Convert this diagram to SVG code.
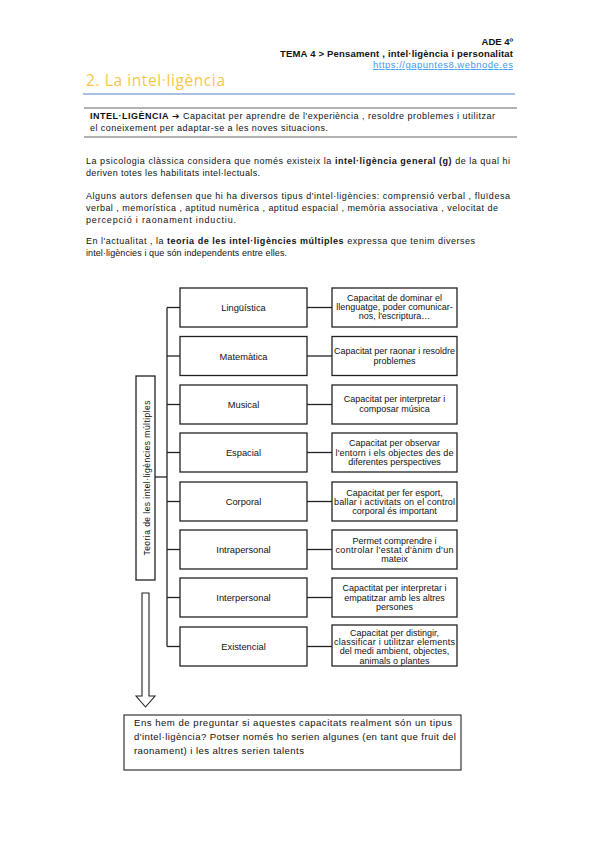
<svg xmlns="http://www.w3.org/2000/svg" width="599" height="848" viewBox="0 0 599 848">
<style>
text{font-family:"Liberation Sans",Arial,sans-serif;fill:#111;}
.hd{font-size:9.5px;font-weight:bold;text-anchor:end;}
.p{font-size:9px;}
.q{font-size:9.6px;}
.b{font-weight:bold;}
.box{fill:#fff;stroke:#222;stroke-width:1.3;}
.lbl{font-size:9.3px;text-anchor:middle;}
.dsc{font-size:9px;text-anchor:middle;}
.con{fill:none;stroke:#222;stroke-width:1.3;}
</style>
<rect width="599" height="848" fill="#fff"/>
<g id="header">
<text class="hd" x="513" y="45">ADE 4º</text>
<text class="hd" x="513" y="57" textLength="233">TEMA 4 &gt; Pensament , intel·ligència i personalitat</text>
<text x="513" y="68" style="font-size:9.5px;text-anchor:end;fill:#3d9cf0;text-decoration:underline" textLength="140">https://gapuntes8.webnode.es</text>
</g>
<g id="title">
<text x="86" y="86" style="font-family:'Open Sans','Liberation Sans',sans-serif;font-size:15.5px;fill:#f7c648" textLength="139">2. La intel·ligència</text>
<line x1="83" y1="94" x2="515" y2="94" stroke="#8eaadb" stroke-width="1.6"/>
</g>
<g id="definition">
<line x1="84" y1="108" x2="517" y2="108" stroke="#666" stroke-width="1"/>
<line x1="84" y1="137" x2="517" y2="137" stroke="#666" stroke-width="1"/>
<text class="p" x="90" y="119" textLength="405"><tspan class="b">INTEL·LIGÈNCIA</tspan> <tspan class="b" style="font-family:'DejaVu Sans',sans-serif">➔</tspan> Capacitat per aprendre de l'experiència , resoldre problemes i utilitzar</text>
<text class="p" x="90" y="131" textLength="238">el coneixement per adaptar-se a les noves situacions.</text>
</g>
<g id="paragraphs">
<text class="p" x="86" y="164" textLength="424">La psicologia clàssica considera que només existeix la <tspan class="b">intel·ligència general (g)</tspan> de la qual hi</text>
<text class="p" x="86" y="176" textLength="174">deriven totes les habilitats intel·lectuals.</text>
<text class="p" x="86" y="199" textLength="424">Alguns autors defensen que hi ha diversos tipus d'intel·ligències: comprensió verbal , fluïdesa</text>
<text class="p" x="86" y="211" textLength="412">verbal , memorística , aptitud numèrica , aptitud espacial , memòria associativa , velocitat de</text>
<text class="p" x="86" y="223" textLength="150">percepció i raonament inductiu.</text>
<text class="p" x="86" y="244" textLength="389">En l'actualitat , la <tspan class="b">teoria de les intel·ligències múltiples</tspan> expressa que tenim diverses</text>
<text class="p" x="86" y="256" textLength="201">intel·ligències i que són independents entre elles.</text>
</g>
<g id="connectors">
<line class="con" x1="155" y1="477" x2="167" y2="477"/>
<line class="con" x1="167" y1="307.5" x2="167" y2="646.5"/>
<line class="con" x1="167" y1="307.5" x2="180" y2="307.5"/>
<line class="con" x1="167" y1="356" x2="180" y2="356"/>
<line class="con" x1="167" y1="404.5" x2="180" y2="404.5"/>
<line class="con" x1="167" y1="452.5" x2="180" y2="452.5"/>
<line class="con" x1="167" y1="501.5" x2="180" y2="501.5"/>
<line class="con" x1="167" y1="549.5" x2="180" y2="549.5"/>
<line class="con" x1="167" y1="597.5" x2="180" y2="597.5"/>
<line class="con" x1="167" y1="646.5" x2="180" y2="646.5"/>
<line class="con" x1="307" y1="307.5" x2="332" y2="307.5"/>
<line class="con" x1="307" y1="356" x2="332" y2="356"/>
<line class="con" x1="307" y1="404.5" x2="332" y2="404.5"/>
<line class="con" x1="307" y1="452.5" x2="332" y2="452.5"/>
<line class="con" x1="307" y1="501.5" x2="332" y2="501.5"/>
<line class="con" x1="307" y1="549.5" x2="332" y2="549.5"/>
<line class="con" x1="307" y1="597.5" x2="332" y2="597.5"/>
<line class="con" x1="307" y1="646.5" x2="332" y2="646.5"/>
<path d="M142,593 H149 V696 H155 L145.5,707 L136,696 H142 Z" fill="#fff" stroke="#222" stroke-width="1.1"/>
</g>
<g id="root">
<rect class="box" x="136" y="376" width="19" height="204"/>
<text transform="translate(149.5,478) rotate(-90)" style="font-size:8.5px;text-anchor:middle" textLength="155">Teoria de les intel·ligències múltiples</text>
</g>
<g id="linguistica">
<rect class="box" x="180" y="288" width="127" height="39"/>
<text class="lbl" x="243.5" y="311">Lingüística</text>
</g>
<g id="matematica">
<rect class="box" x="180" y="336.5" width="127" height="39"/>
<text class="lbl" x="243.5" y="359.5">Matemàtica</text>
</g>
<g id="musical">
<rect class="box" x="180" y="385" width="127" height="39"/>
<text class="lbl" x="243.5" y="408">Musical</text>
</g>
<g id="espacial">
<rect class="box" x="180" y="433" width="127" height="39"/>
<text class="lbl" x="243.5" y="456">Espacial</text>
</g>
<g id="corporal">
<rect class="box" x="180" y="482" width="127" height="39"/>
<text class="lbl" x="243.5" y="505">Corporal</text>
</g>
<g id="intrapersonal">
<rect class="box" x="180" y="530" width="127" height="39"/>
<text class="lbl" x="243.5" y="553">Intrapersonal</text>
</g>
<g id="interpersonal">
<rect class="box" x="180" y="578" width="127" height="39"/>
<text class="lbl" x="243.5" y="601">Interpersonal</text>
</g>
<g id="existencial">
<rect class="box" x="180" y="627" width="127" height="39"/>
<text class="lbl" x="243.5" y="650">Existencial</text>
</g>
<g id="d-linguistica">
<rect class="box" x="332" y="288" width="125" height="39"/>
<text class="dsc" x="394.5" y="300.5">Capacitat de dominar el</text>
<text class="dsc" x="394.5" y="309.5">llenguatge, poder comunicar-</text>
<text class="dsc" x="394.5" y="318.5">nos, l'escriptura…</text>
</g>
<g id="d-matematica">
<rect class="box" x="332" y="336.5" width="125" height="39"/>
<text class="dsc" x="394.5" y="354" textLength="121">Capacitat per raonar i resoldre</text>
<text class="dsc" x="394.5" y="363.5">problemes</text>
</g>
<g id="d-musical">
<rect class="box" x="332" y="385" width="125" height="39"/>
<text class="dsc" x="394.5" y="401.5">Capacitat per interpretar i</text>
<text class="dsc" x="394.5" y="411.5">composar música</text>
</g>
<g id="d-espacial">
<rect class="box" x="332" y="433" width="125" height="39"/>
<text class="dsc" x="394.5" y="446">Capacitat per observar</text>
<text class="dsc" x="394.5" y="455.5" textLength="118">l'entorn i els objectes des de</text>
<text class="dsc" x="394.5" y="465">diferentes perspectives</text>
</g>
<g id="d-corporal">
<rect class="box" x="332" y="482" width="125" height="39"/>
<text class="dsc" x="394.5" y="495.5">Capacitat per fer esport,</text>
<text class="dsc" x="394.5" y="504.5" textLength="121">ballar i activitats on el control</text>
<text class="dsc" x="394.5" y="513.5">corporal és important</text>
</g>
<g id="d-intrapersonal">
<rect class="box" x="332" y="530" width="125" height="39"/>
<text class="dsc" x="394.5" y="543.5">Permet comprendre i</text>
<text class="dsc" x="394.5" y="552.5" textLength="118">controlar l'estat d'ànim d'un</text>
<text class="dsc" x="394.5" y="561.5">mateix</text>
</g>
<g id="d-interpersonal">
<rect class="box" x="332" y="578" width="125" height="39"/>
<text class="dsc" x="394.5" y="591">Capactitat per interpretar i</text>
<text class="dsc" x="394.5" y="600.5">empatitzar amb les altres</text>
<text class="dsc" x="394.5" y="610">persones</text>
</g>
<g id="d-existencial">
<rect class="box" x="332" y="625" width="125" height="41"/>
<text class="dsc" x="394.5" y="635.5">Capacitat per distingir,</text>
<text class="dsc" x="394.5" y="644.5" textLength="121">classificar i utilitzar elements</text>
<text class="dsc" x="394.5" y="654">del medi ambient, objectes,</text>
<text class="dsc" x="394.5" y="663.5">animals o plantes</text>
</g>
<g id="conclusion">
<rect x="124" y="715" width="337" height="55" fill="#fff" stroke="#222" stroke-width="1.1"/>
<text class="q" x="134" y="726" textLength="318">Ens hem de preguntar si aquestes capacitats realment són un tipus</text>
<text class="q" x="134" y="740" textLength="322">d'intel·ligència? Potser només ho serien algunes (en tant que fruit del</text>
<text class="q" x="134" y="754" textLength="170">raonament) i les altres serien talents</text>
</g>
</svg>
